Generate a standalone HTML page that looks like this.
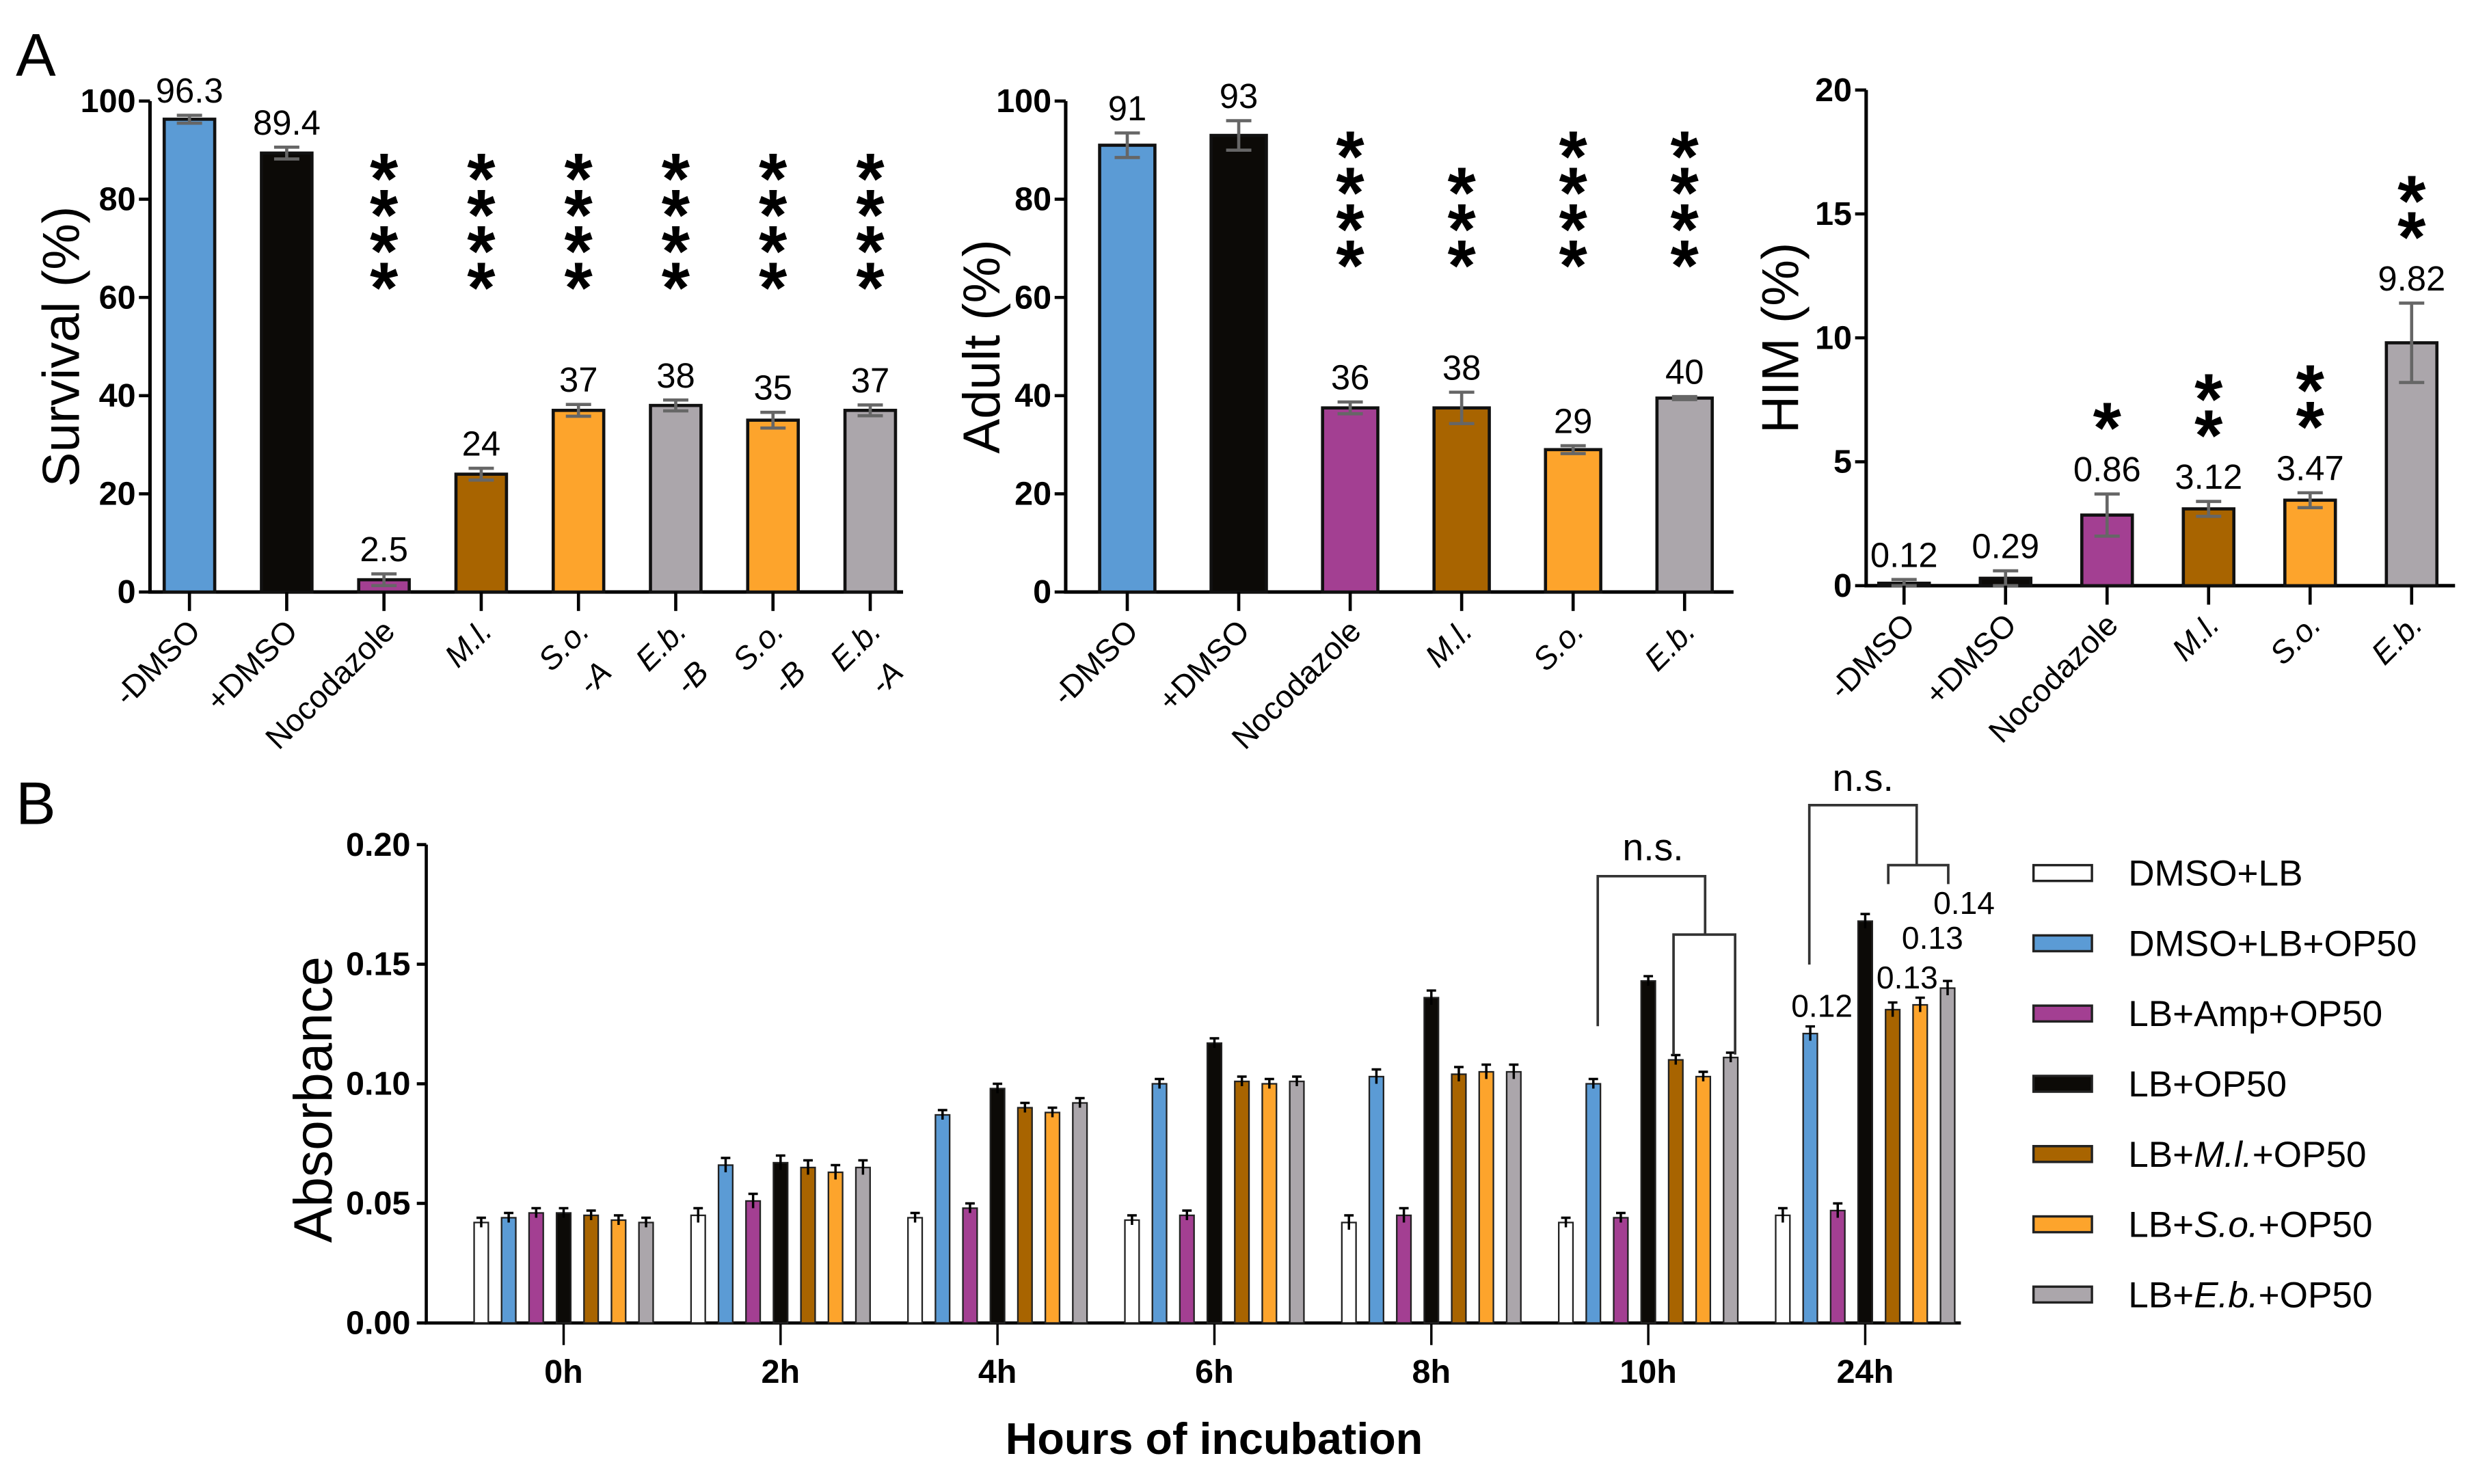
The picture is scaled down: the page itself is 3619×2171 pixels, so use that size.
<!DOCTYPE html>
<html><head><meta charset="utf-8">
<style>
html,body{margin:0;padding:0;background:#fff;}
svg{display:block;}
text{font-family:"Liberation Sans",sans-serif;}
.tick{font-family:"Liberation Sans Narrow","Liberation Sans",sans-serif;font-weight:bold;}
</style></head>
<body>
<svg id="fig" width="3619" height="2171" viewBox="0 0 1567 940" preserveAspectRatio="none" xmlns="http://www.w3.org/2000/svg">
<text x="10" y="48" font-size="38">A</text>
<text x="10" y="522" font-size="38">B</text>
<g id="g1"></g>
<g id="g2"></g>
<g id="g3"></g>
<g id="gb"></g>
</svg>
<script>
// Panel A1
const survCats = ["-DMSO","+DMSO","Nocodazole","M.l.","S.o.","E.b.","S.o.","E.b."];
const survSub = ["","","","","-A","-B","-B","-A"];
const survVals = [96.3,89.4,2.5,24,37,38,35,37];
const survErr = [0.8,1.2,1.2,1.2,1.2,1.1,1.6,1.1];
const survLabels = ["96.3","89.4","2.5","24","37","38","35","37"];
const survStars = [0,0,4,4,4,4,4,4];
const survTicks = [0,20,40,60,80,100];
// Panel A2
const adultCats = ["-DMSO","+DMSO","Nocodazole","M.l.","S.o.","E.b."];
const adultVals = [91,93,37.5,37.5,29,39.5];
const adultErr = [2.5,3,1.2,3.2,0.8,0.3];
const adultLabels = ["91","93","36","38","29","40"];
const adultStars = [0,0,4,3,4,4];
const adultTicks = [0,20,40,60,80,100];
// Panel A3
const himCats = ["-DMSO","+DMSO","Nocodazole","M.l.","S.o.","E.b."];
const himVals = [0.1,0.3,2.85,3.1,3.45,9.8];
const himErr = [0.15,0.3,0.85,0.3,0.3,1.6];
const himLabels = ["0.12","0.29","0.86","3.12","3.47","9.82"];
const himStars = [0,0,1,2,2,2];
const himTicks = [0,5,10,15,20];
// Panel B
const hours = ["0h","2h","4h","6h","8h","10h","24h"];
const seriesNames = ["DMSO+LB","DMSO+LB+OP50","LB+Amp+OP50","LB+OP50","LB+M.l.+OP50","LB+S.o.+OP50","LB+E.b.+OP50"];
const sDMSOLB = [0.042,0.045,0.044,0.043,0.042,0.042,0.045];
const sDMSOLBOP = [0.044,0.066,0.087,0.100,0.103,0.100,0.121];
const sAmp = [0.046,0.051,0.048,0.045,0.045,0.044,0.047];
const sLBOP = [0.046,0.067,0.098,0.117,0.136,0.143,0.168];
const sML = [0.045,0.065,0.090,0.101,0.104,0.110,0.131];
const sSO = [0.043,0.063,0.088,0.100,0.105,0.103,0.133];
const sEB = [0.042,0.065,0.092,0.101,0.105,0.111,0.140];
const bErr = [0.002,0.003,0.002,0.002,0.003,0.002,0.003];
const absTicks = [0.00,0.05,0.10,0.15,0.20];

const NS="http://www.w3.org/2000/svg";
function mk(p,t,a){const e=document.createElementNS(NS,t);for(const k in a)e.setAttribute(k,a[k]);p.appendChild(e);return e;}
const BLUE="#5b9bd5",BLACK="#0c0a07",PURP="#a33f92",BROWN="#a86400",ORANGE="#fda42c",GREY="#aba6ab";

function barChart(g,o){
  const y=v=>o.y0-(v-o.min)/(o.max-o.min)*(o.y0-o.y1);
  const ax=mk(g,'path',{d:`M${o.ax} ${o.y1} V${o.y0} H${o.axEnd}`,stroke:'#000','stroke-width':2.2,fill:'none'});
  
  
  o.ticks.forEach(t=>{
    const l=mk(g,'line',{x1:o.ax-7,x2:o.ax,y1:y(t),y2:y(t),stroke:'#000','stroke-width':2});
    
    
    const tx=mk(g,'text',{x:o.ax-9,y:y(t)+7,'font-size':21,'text-anchor':'end',class:'tick'});
    tx.textContent=t;
    
    
  });
  const tt=mk(g,'text',{x:0,y:0,'font-size':33,'text-anchor':'middle',transform:`translate(${o.titleX},${(o.y0+o.y1)/2}) rotate(-90)`});
  tt.textContent=o.title;
  
  
  o.vals.forEach((v,i)=>{
    const cx=o.x0+i*o.step;
    const r=mk(g,'rect',{x:cx-o.bw/2,y:y(v),width:o.bw,height:o.y0-y(v),fill:o.colors[i],stroke:'#111','stroke-width':2});
    
    
    const e=o.err[i];
    const eb=mk(g,'path',{d:`M${cx} ${y(v+e)} V${y(Math.max(v-e,o.min))} M${cx-8} ${y(v+e)} H${cx+8} M${cx-8} ${y(Math.max(v-e,o.min))} H${cx+8}`,stroke:'#666','stroke-width':2,fill:'none'});
    
    
    const ly=y(v+e)-8;
    const lb=mk(g,'text',{x:cx,y:ly,'font-size':22,'text-anchor':'middle'});
    lb.textContent=o.labels[i];
    
    
    mk(g,'line',{x1:cx,x2:cx,y1:o.y0,y2:o.y0+12,stroke:'#000','stroke-width':2});
    const base=o.starsAbove?ly-32:o.starBase;
    for(let s=0;s<o.stars[i];s++){
      const st=mk(g,'text',{x:cx,y:base+14-(o.stars[i]-1-s)*o.starStep,'font-size':46,'font-weight':'bold','text-anchor':'middle'});
      st.textContent='*';
      
      
    }
    const it=/\./.test(o.cats[i]);
    const xl=mk(g,'text',{x:0,y:0,'font-size':20,'text-anchor':'end','font-style':it?'italic':'normal',transform:`translate(${cx+8},${o.y0+26}) rotate(-45)`});
    xl.textContent=o.cats[i];
    
    
    if(o.sub&&o.sub[i]){
      const s2=mk(g,'text',{x:0,y:0,'font-size':20,'text-anchor':'end','font-style':'italic',transform:`translate(${cx+22},${o.y0+52}) rotate(-45)`});
      s2.textContent=o.sub[i];
      
      
    }
  });
}
barChart(document.getElementById('g1'),{ax:95,axEnd:572,y0:375,y1:64,min:0,max:100,ticks:survTicks,title:'Survival (%)',titleX:50,
  vals:survVals,err:survErr,labels:survLabels,stars:survStars,cats:survCats,sub:survSub,x0:120,step:61.6,bw:32,
  colors:[BLUE,BLACK,PURP,BROWN,ORANGE,GREY,ORANGE,GREY],starBase:184,starStep:23});
barChart(document.getElementById('g2'),{ax:675,axEnd:1098,y0:375,y1:64,min:0,max:100,ticks:adultTicks,title:'Adult (%)',titleX:633,
  vals:adultVals,err:adultErr,labels:adultLabels,stars:adultStars,cats:adultCats,x0:714,step:70.6,bw:35,
  colors:[BLUE,BLACK,PURP,BROWN,ORANGE,GREY],starBase:170,starStep:23});
barChart(document.getElementById('g3'),{ax:1182,axEnd:1555,y0:371,y1:57,min:0,max:20,ticks:himTicks,title:'HIM (%)',titleX:1139,
  vals:himVals,err:himErr,labels:himLabels,stars:himStars,cats:himCats,x0:1206,step:64.3,bw:32,
  colors:['#333',BLACK,PURP,BROWN,ORANGE,GREY],starsAbove:true,starStep:23});

// Panel B
(function(){
  const g=document.getElementById('gb');
  const series=[sDMSOLB,sDMSOLBOP,sAmp,sLBOP,sML,sSO,sEB];
  const cols=["#fff",BLUE,PURP,BLACK,BROWN,ORANGE,GREY];
  const X0=270,Y0=838,Y1=535,gx0=357,gstep=137.4,bstep=17.4,bw=9;
  const y=v=>Y0-v/0.2*(Y0-Y1);
  const ax=mk(g,'path',{d:`M${X0} ${Y1} V${Y0} H1242`,stroke:'#000','stroke-width':2,fill:'none'});
  
  
  absTicks.forEach(t=>{
    mk(g,'line',{x1:X0-6,x2:X0,y1:y(t),y2:y(t),stroke:'#000','stroke-width':2});
    const tx=mk(g,'text',{x:X0-10,y:y(t)+7,'font-size':21,'text-anchor':'end',class:'tick'});
    tx.textContent=t.toFixed(2);
    
    
  });
  const tt=mk(g,'text',{x:0,y:0,'font-size':34,'text-anchor':'middle',transform:`translate(210,${(Y0+Y1)/2+10}) rotate(-90)`});
  tt.textContent='Absorbance';
  
  
  const xt=mk(g,'text',{x:769,y:921,'font-size':28,'font-weight':'bold','text-anchor':'middle'});
  xt.textContent='Hours of incubation';
  
  
  hours.forEach((h,gi)=>{
    const gc=gx0+gi*gstep;
    mk(g,'line',{x1:gc,x2:gc,y1:Y0,y2:Y0+14,stroke:'#000','stroke-width':1.5});
    const hl=mk(g,'text',{x:gc,y:Y0+38,'font-size':21,'text-anchor':'middle',class:'tick'});
    hl.textContent=h;
    
    
    series.forEach((s,si)=>{
      const cx=gc+(si-3)*bstep,v=s[gi];
      const r=mk(g,'rect',{x:cx-bw/2,y:y(v),width:bw,height:Y0-y(v),fill:cols[si],stroke:'#222','stroke-width':1});
      
      
      const e=bErr[gi];
      mk(g,'path',{d:`M${cx} ${y(v+e)} V${y(v-e)} M${cx-3} ${y(v+e)} H${cx+3}`,stroke:'#000','stroke-width':1.5,fill:'none'});
    });
  });
  const br=mk(g,'path',{d:'M1012 650 V555 H1080 V592 M1060 668 V592 H1099 V668 M1146 611 V510 H1214 V548 M1196 560 V548 H1234 V560',stroke:'#333','stroke-width':1.6,fill:'none'});
  
  
  [[1047,545,'n.s.'],[1180,501,'n.s.']].forEach(a=>{
    const t=mk(g,'text',{x:a[0],y:a[1],'font-size':24,'text-anchor':'middle'});t.textContent=a[2];
    
    
  });
  [[1154,644,'0.12'],[1208,626,'0.13'],[1224,601,'0.13'],[1244,579,'0.14']].forEach(a=>{
    const t=mk(g,'text',{x:a[0],y:a[1],'font-size':20,'text-anchor':'middle'});t.textContent=a[2];
    
    
  });
  const leg=[["DMSO+LB"],["DMSO+LB+OP50"],["LB+Amp+OP50"],["LB+OP50"],["LB+","M.l.","+OP50"],["LB+","S.o.","+OP50"],["LB+","E.b.","+OP50"]];
  leg.forEach((l,i)=>{
    const ly=553+i*44.5;
    const r=mk(g,'rect',{x:1288,y:ly-5,width:37,height:10,fill:cols[i],stroke:'#222','stroke-width':1.5});
    
    
    const t=mk(g,'text',{x:1348,y:ly+8,'font-size':23});
    
    
    l.forEach((p,pi)=>{const ts=mk(t,'tspan',{});ts.textContent=p;if(pi==1)ts.setAttribute('font-style','italic');});
  });
})();
</script>
</body></html>
